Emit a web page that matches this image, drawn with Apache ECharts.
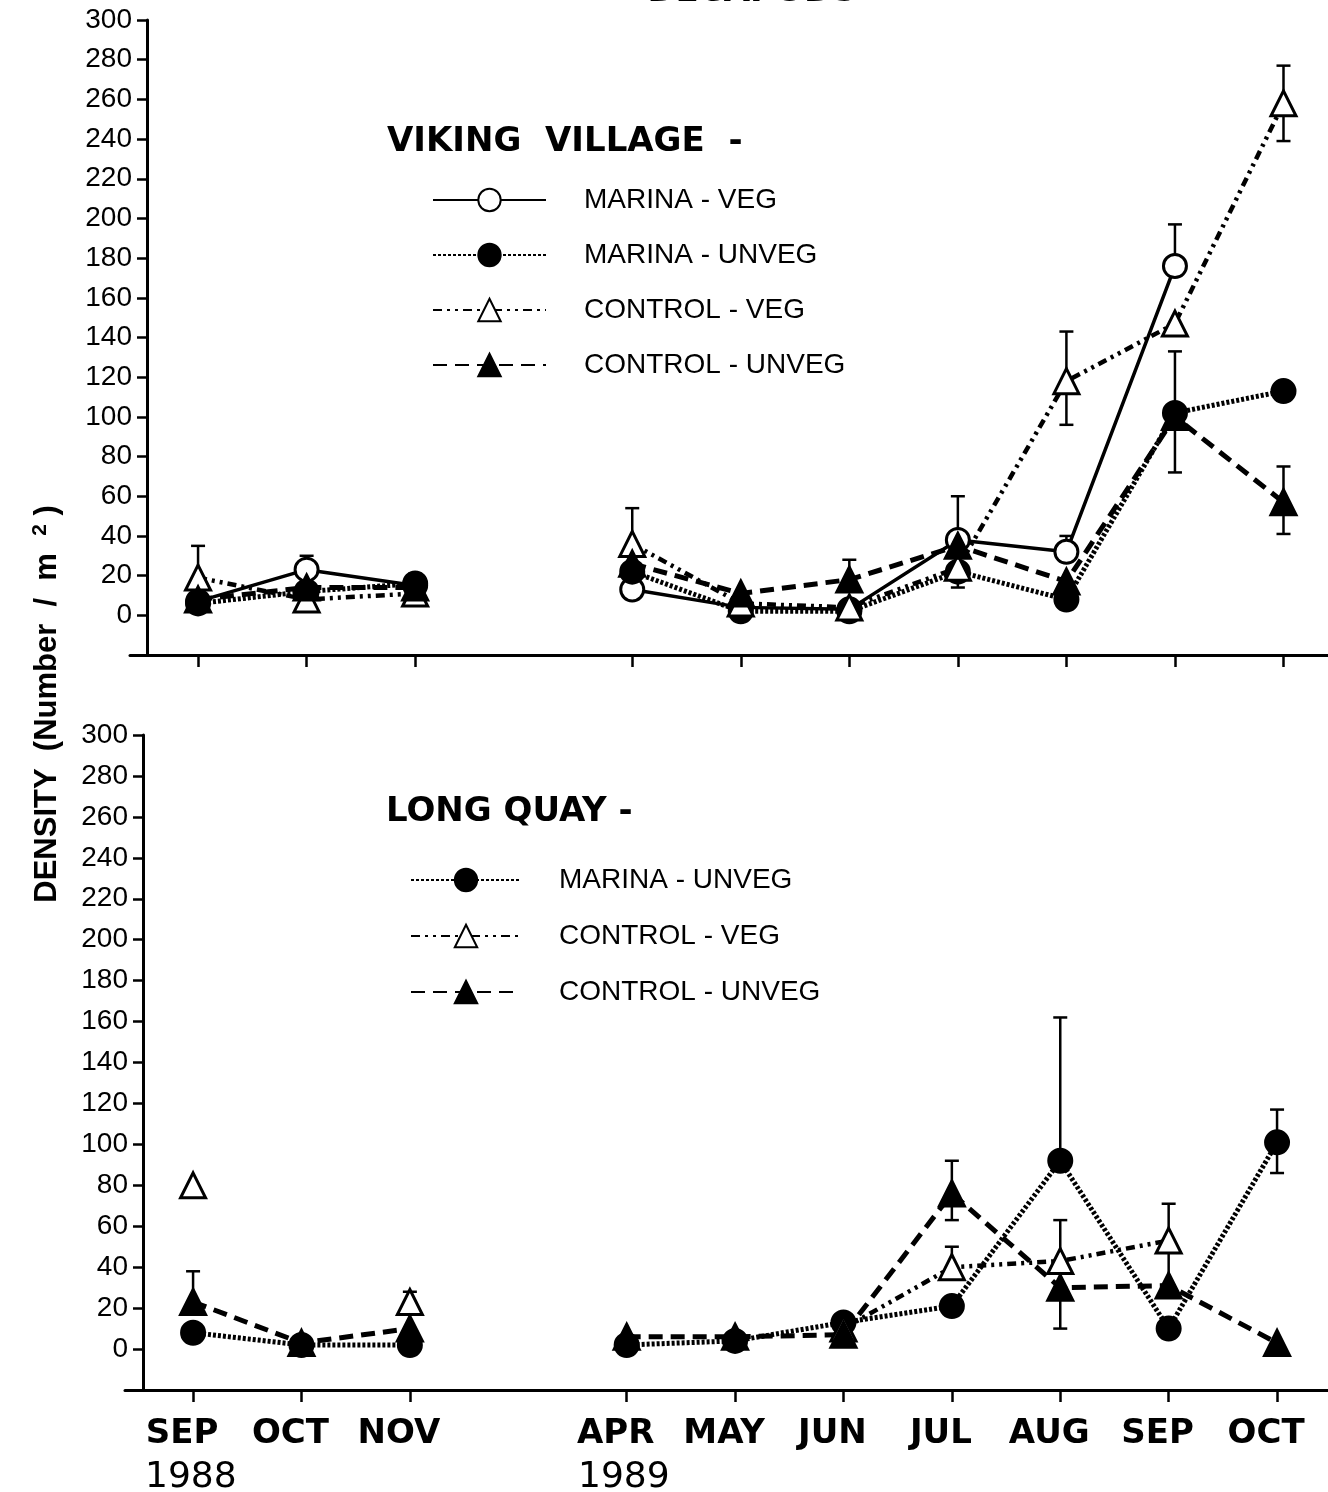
<!DOCTYPE html>
<html>
<head>
<meta charset="utf-8">
<script src="https://cdn.jsdelivr.net/npm/echarts@6/dist/echarts.min.js"></script>
<style>
  html, body { margin: 0; padding: 0; background: #fff; }
  #chart { width: 1328px; height: 1492px; }
</style>
</head>
<body>
<div id="chart"></div>
<script>
// month slots; slot 3 is the Dec-Mar gap
const months = ['SEP', 'OCT', 'NOV', '', 'APR', 'MAY', 'JUN', 'JUL', 'AUG', 'SEP', 'OCT'];
const xPos = [0, 1, 2, 3, 4, 5, 6, 7, 8, 9, 10];
const tickPos = [0, 1, 2, 4, 5, 6, 7, 8, 9, 10];
const years = ['1988', '1989'];
const yTicks = [-20, 300, 20];

// VIKING VILLAGE
const vvMarinaVeg    = [7, 23, 15, null, 13, 4, 3, 38, 32, 176, null];
const vvMarinaUnveg  = [6, 12, 16, null, 22, 2, 2, 22, 8, 102, 113];
const vvControlVeg   = [19, 8, 11, null, 36, 6, 4, 24, 118, 147, 258];
const vvControlUnveg = [8, 14, 14, null, 26, 11, 18, 35, 17, 100, 57];
// error bars: [slot, low, high]
const vvErrors = [
  [0, 19, 35], [1, 22, 30], [2, 15, 21], [4, 36, 54], [6, 18, 28],
  [7, 14, 60], [8, 32, 40], [8, 96, 143], [9, 176, 197], [9, 72, 133],
  [10, 239, 277], [10, 41, 75]
];

// LONG QUAY
const lqMarinaUnveg  = [8, 2, 2, null, 2, 4, 13, 21, 92, 10, 101];
const lqControlVeg   = [80, null, 23, null, null, null, 10, 40, 43, 53, null];
const lqControlUnveg = [23, 3, 10, null, 6, 6, 7, 76, 30, 31, 3];
const lqErrors = [
  [0, 23, 38], [2, 23, 28], [7, 63, 92], [7, 40, 50], [8, 92, 162],
  [8, 43, 63], [8, 10, 30], [9, 31, 71], [10, 86, 117]
];

const looks = {
  'MARINA - VEG':    { symbol: 'circle',   size: 23, open: true,  line: { type: 'solid', width: 3.5 } },
  'MARINA - UNVEG':  { symbol: 'circle',   size: 23, open: false, line: { type: [3, 2], width: 5 } },
  'CONTROL - VEG':   { symbol: 'triangle', size: 25, open: true,  line: { type: [9, 5, 3, 5, 3, 5], width: 4.5 } },
  'CONTROL - UNVEG': { symbol: 'triangle', size: 25, open: false, line: { type: [14, 8], width: 5 } }
};

const sansFont = '"Liberation Sans", Arial, sans-serif';

function lineSeries(name, vals, idx) {
  const lk = looks[name];
  return {
    type: 'line', name: name, xAxisIndex: idx, yAxisIndex: idx, z: 3,
    data: xPos.map((p, i) => [p, vals[i] == null ? '-' : vals[i]]),
    symbol: lk.symbol, symbolSize: lk.size, showAllSymbol: true,
    lineStyle: { color: '#000', width: lk.line.width, type: lk.line.type },
    itemStyle: { color: lk.open ? '#fff' : '#000', borderColor: '#000', borderWidth: 3 },
    emphasis: { disabled: true }
  };
}

function renderErr(params, api) {
  const x = api.value(0);
  const a = api.coord([x, api.value(1)]);
  const b = api.coord([x, api.value(2)]);
  const w = 7;
  const st = { stroke: '#000', lineWidth: 2.5 };
  return {
    type: 'group',
    children: [
      { type: 'line', shape: { x1: a[0], y1: a[1], x2: b[0], y2: b[1] }, style: st },
      { type: 'line', shape: { x1: a[0] - w, y1: a[1], x2: a[0] + w, y2: a[1] }, style: st },
      { type: 'line', shape: { x1: b[0] - w, y1: b[1], x2: b[0] + w, y2: b[1] }, style: st }
    ]
  };
}

function errSeries(data, idx) {
  return { type: 'custom', xAxisIndex: idx, yAxisIndex: idx, z: 1, data: data, renderItem: renderErr, silent: true };
}

function xAxis(idx, min, max, showLabel) {
  return {
    type: 'value', gridIndex: idx, min: min, max: max,
    axisLine: { show: true, onZero: false, lineStyle: { color: '#000', width: 3 } },
    axisTick: { show: true, customValues: tickPos, length: 12, lineStyle: { color: '#000', width: 2.5 } },
    splitLine: { show: false },
    axisLabel: {
      show: showLabel, customValues: tickPos, margin: 27, padding: [0, 22, 0, 0],
      formatter: v => months[v], color: '#000',
      fontFamily: 'DejaVu Sans', fontWeight: 'bold', fontSize: 34
    }
  };
}

function yAxis(idx, offset) {
  return {
    type: 'value', gridIndex: idx, min: yTicks[0], max: yTicks[1], interval: yTicks[2], offset: offset,
    axisLine: { show: true, onZero: false, lineStyle: { color: '#000', width: 3 } },
    axisTick: { show: true, length: 10, lineStyle: { color: '#000', width: 2.5 } },
    splitLine: { show: false },
    axisLabel: {
      formatter: v => (v < 0 ? '' : String(v)), color: '#000', margin: 15,
      fontFamily: sansFont, fontSize: 28
    }
  };
}

const legendText = { fontFamily: sansFont, fontSize: 28, color: '#000', padding: [0, 0, 0, 33] };

const chart = echarts.init(document.getElementById('chart'));
chart.setOption({
  animation: false,
  backgroundColor: '#fff',
  grid: [
    { left: 130, right: 0, top: 20, height: 635 },
    { left: 125, right: 0, top: 735, height: 655 }
  ],
  xAxis: [xAxis(0, -0.627, 10.41, false), xAxis(1, -0.628, 10.47, true)],
  yAxis: [yAxis(0, -17), yAxis(1, -18)],
  legend: [
    {
      orient: 'vertical', left: 432, top: 186, padding: 0, itemWidth: 113, itemHeight: 28, itemGap: 27,
      selectedMode: false, textStyle: legendText,
      data: ['MARINA - VEG', 'MARINA - UNVEG', 'CONTROL - VEG', 'CONTROL - UNVEG']
    },
    {
      orient: 'vertical', left: 410, top: 866, padding: 0, itemWidth: 110, itemHeight: 28, itemGap: 28,
      selectedMode: false, textStyle: legendText,
      data: ['MARINA - UNVEG', 'CONTROL - VEG', 'CONTROL - UNVEG']
    }
  ],
  graphic: [
    { type: 'text', x: 752, y: 9, style: { text: 'DECAPODS', font: 'bold 34px "DejaVu Sans"', fill: '#000', textAlign: 'center', textVerticalAlign: 'bottom' } },
    { type: 'text', x: 387, y: 142, style: { text: 'VIKING  VILLAGE  -', font: 'bold 34px "DejaVu Sans"', fill: '#000', textVerticalAlign: 'middle' } },
    { type: 'text', x: 386, y: 812, style: { text: 'LONG QUAY -', font: 'bold 34px "DejaVu Sans"', fill: '#000', textVerticalAlign: 'middle' } },
    { type: 'text', x: 145, y: 1478, style: { text: years[0], font: '36px "DejaVu Sans"', fill: '#000', textVerticalAlign: 'middle' } },
    { type: 'text', x: 578, y: 1478, style: { text: years[1], font: '36px "DejaVu Sans"', fill: '#000', textVerticalAlign: 'middle' } },
    {
      type: 'text', x: 47, y: 704, rotation: Math.PI / 2,
      style: {
        text: '{a|DENSITY  (Number  /  m  }{s|2}{a| )}',
        textAlign: 'center', textVerticalAlign: 'middle',
        rich: {
          a: { fontFamily: sansFont, fontWeight: 'bold', fontSize: 31, fill: '#000' },
          s: { fontFamily: sansFont, fontWeight: 'bold', fontSize: 21, fill: '#000', verticalAlign: 'top', padding: [0, 0, 14, 0] }
        }
      }
    }
  ],
  series: [
    errSeries(vvErrors, 0),
    lineSeries('MARINA - VEG', vvMarinaVeg, 0),
    lineSeries('MARINA - UNVEG', vvMarinaUnveg, 0),
    lineSeries('CONTROL - VEG', vvControlVeg, 0),
    lineSeries('CONTROL - UNVEG', vvControlUnveg, 0),
    errSeries(lqErrors, 1),
    lineSeries('MARINA - UNVEG', lqMarinaUnveg, 1),
    lineSeries('CONTROL - VEG', lqControlVeg, 1),
    lineSeries('CONTROL - UNVEG', lqControlUnveg, 1)
  ]
});
</script>
</body>
</html>
